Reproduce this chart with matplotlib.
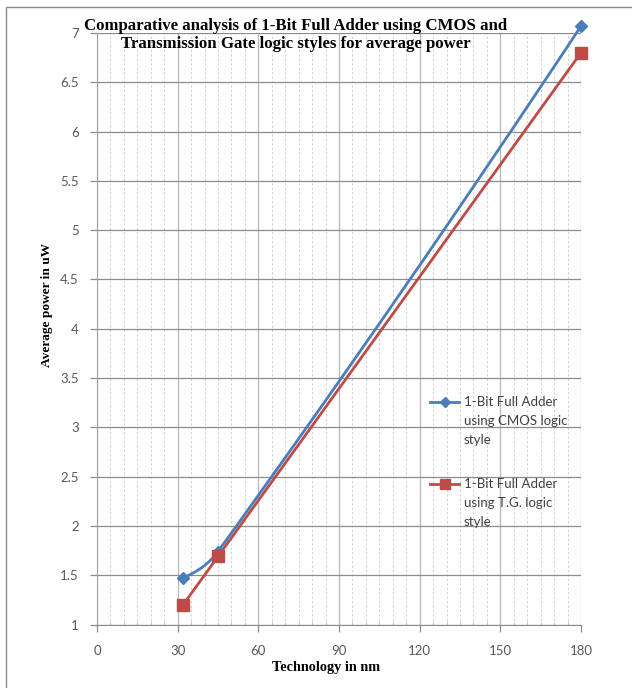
import numpy as np
import matplotlib
matplotlib.use('Agg')
import matplotlib.pyplot as plt
from matplotlib.path import Path
from matplotlib.patches import PathPatch, Rectangle
from matplotlib.legend_handler import HandlerLine2D
from matplotlib.ticker import MultipleLocator

# Data
technology = [32, 45, 180]
cmos_power = [1.475, 1.74, 7.07]
tg_power = [1.2, 1.69, 6.8]

labels = ['1-Bit Full Adder\nusing CMOS logic\nstyle',
          '1-Bit Full Adder\nusing T.G. logic\nstyle']
title = ('Comparative analysis of 1-Bit Full Adder using CMOS and\n'
         'Transmission Gate logic styles for average power')
xlabel = 'Technology in nm'
ylabel = 'Average power in uW'

BLUE = '#4a7ebb'
RED = '#be4b48'
TICK_COLOR = '#595959'
TICK_FONT = 'Lato'
SERIF = 'Liberation Serif'
LEG_SHIFT = 14  # points, moves legend keys up to the first text line

W, H = 632, 688
fig = plt.figure(figsize=(W / 100, H / 100), dpi=100)

# plot area in pixels: left 97, right 581, top 33, bottom 624.5
left, right, top, bottom = 97, 581, 33, 624.5
ax = fig.add_axes([left / W, 1 - bottom / H, (right - left) / W, (bottom - top) / H])
ax.set_xlim(0, 180)
ax.set_ylim(1, 7)


def unit(v):
    return v / np.hypot(*v)


def smooth_patch(ax, xs, ys, color, lw):
    # Excel-like smoothed line: cubic bezier between points, built in display space
    pts = ax.transData.transform(np.column_stack([xs, ys]))
    n = len(pts)
    tangents = [None] * n
    for i in range(1, n - 1):
        tangents[i] = unit(pts[i + 1] - pts[i - 1])
    # free ends: mirror the neighbouring tangent about the chord
    tangents[0] = unit(2 * unit(pts[1] - pts[0]) - tangents[1])
    tangents[-1] = unit(2 * unit(pts[-1] - pts[-2]) - tangents[-2])
    verts = [pts[0]]
    codes = [Path.MOVETO]
    for i in range(n - 1):
        p0, p1 = pts[i], pts[i + 1]
        seg = np.hypot(*(p1 - p0)) / 3
        verts += [p0 + tangents[i] * seg, p1 - tangents[i + 1] * seg, p1]
        codes += [Path.CURVE4] * 3
    verts = ax.transData.inverted().transform(np.array(verts))
    patch = PathPatch(Path(verts, codes), facecolor='none', edgecolor=color,
                      lw=lw, capstyle='round', joinstyle='round', zorder=3,
                      clip_on=False)
    ax.add_patch(patch)


smooth_patch(ax, technology, cmos_power, BLUE, 2.0)
smooth_patch(ax, technology, tg_power, RED, 2.0)
ax.plot(technology, cmos_power, linestyle='none', marker='D', ms=6.5,
        color=BLUE, zorder=4, clip_on=False)
ax.plot(technology, tg_power, linestyle='none', marker='s', ms=8,
        color=RED, zorder=4, clip_on=False)

# grid and ticks
ax.xaxis.set_major_locator(MultipleLocator(30))
ax.xaxis.set_minor_locator(MultipleLocator(5))
ax.set_yticks(np.arange(1, 7.01, 0.5))
ax.set_yticklabels(['1', '1.5', '2', '2.5', '3', '3.5', '4', '4.5', '5', '5.5',
                    '6', '6.5', '7'])
ax.grid(axis='y', which='major', color='#8c8c8c', lw=0.9)
ax.grid(axis='x', which='major', color='#b8b8b8', lw=0.9)
ax.grid(axis='x', which='minor', color='#d2d2d2', lw=0.8, linestyle=(0, (2, 2)))
ax.set_axisbelow(True)
for s in ['top', 'right']:
    ax.spines[s].set_visible(False)
ax.spines['left'].set_color('#a0a0a0')
ax.spines['bottom'].set_color('#8c8c8c')
ax.tick_params(axis='both', which='major', direction='out', length=5, width=0.9,
               color='#8c8c8c', labelcolor=TICK_COLOR, labelsize=9.5, pad=8)
ax.tick_params(axis='x', which='major', pad=10)
ax.tick_params(axis='x', which='minor', direction='in', length=3, width=0.6,
               color='#c8c8c8')
for lab in ax.get_xticklabels() + ax.get_yticklabels():
    lab.set_fontfamily(TICK_FONT)


class TopLineHandler(HandlerLine2D):
    # put the legend key next to the first text line
    def create_artists(self, legend, orig_handle, xdescent, ydescent, width,
                       height, fontsize, trans):
        arts = super().create_artists(legend, orig_handle, xdescent, ydescent,
                                      width, height, fontsize, trans)
        for a in arts:
            a.set_ydata(np.asarray(a.get_ydata()) + LEG_SHIFT)
        return arts


lh1 = plt.Line2D([], [], color=BLUE, lw=2.0, marker='D', ms=5)
lh2 = plt.Line2D([], [], color=RED, lw=2.0, marker='s', ms=6.5)
leg = ax.legend([lh1, lh2], labels, loc='upper left',
                bbox_to_anchor=((430 - left) / (right - left), 1 - (396 - top) / (bottom - top)),
                frameon=False, handlelength=2.2, handletextpad=0.35,
                labelspacing=2.45, borderpad=0, borderaxespad=0,
                prop={'family': TICK_FONT, 'size': 9.5},
                handler_map={plt.Line2D: TopLineHandler()})
for t in leg.get_texts():
    t.set_color('#404040')
    t.set_linespacing(1.68)

# texts
fig.text(296 / W, 1 - 35 / H, title, ha='center', va='center', family=SERIF,
         fontweight='bold', fontsize=12.1, linespacing=1.25)
fig.text(326 / W, 1 - 668 / H, xlabel, ha='center', va='center', family=SERIF,
         fontweight='bold', fontsize=10.3)
fig.text(47 / W, 1 - 305 / H, ylabel, ha='center', va='center', family=SERIF,
         fontweight='bold', fontsize=9.6, rotation=90)

# outer chart border
fig.add_artist(Rectangle((6 / W, -0.05), 1.2, 1 - 7 / H + 0.05, transform=fig.transFigure,
                         facecolor='none', edgecolor='#8a8a8a', lw=1.0))

fig.savefig('out.png', dpi=100)
